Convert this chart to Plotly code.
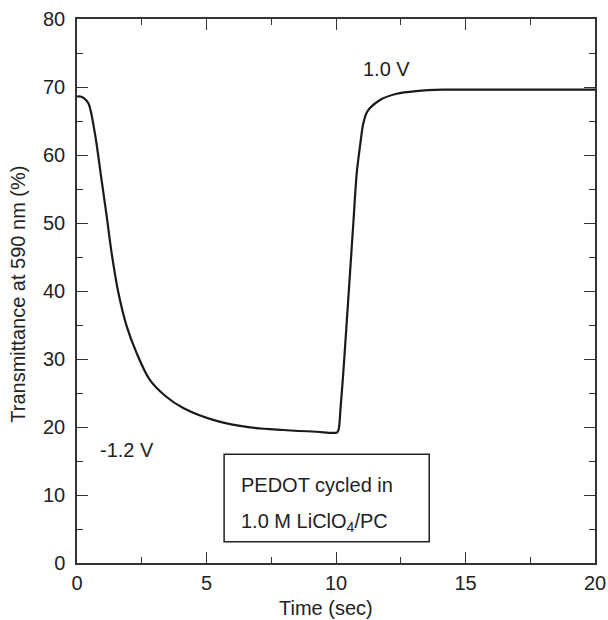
import plotly.graph_objects as go

# Data
time_sec = [0, 0.12, 0.25, 0.44, 0.69, 0.95, 1.15, 1.34, 1.6, 1.92, 2.3, 2.8, 3.4, 4.1,
            5.39, 6.68, 7.96, 9.25, 10.04, 10.1, 10.18, 10.28, 10.41, 10.54, 10.67, 10.8,
            10.93, 11.05, 11.17, 11.31, 11.7, 12.34, 13.1, 14.13, 15.5, 17.5, 20]
transmittance = [68.6, 68.6, 68.4, 67.6, 63.2, 56.3, 50.9, 45.5, 39.7, 34.8, 30.9, 27.0,
                 24.6, 22.8, 20.9, 19.95, 19.56, 19.3, 19.2, 19.6, 23.0, 27.9, 35.2, 42.6,
                 50.0, 57.3, 61.4, 64.6, 66.1, 66.9, 68.1, 69.0, 69.4, 69.6, 69.6, 69.6, 69.6]

x_ticks = [0, 5, 10, 15, 20]
y_ticks = [0, 10, 20, 30, 40, 50, 60, 70, 80]

FONT = "Arial, Liberation Sans, Helvetica, sans-serif"
INK = "#222222"

fig = go.Figure()
fig.add_trace(go.Scatter(x=time_sec, y=transmittance, mode="lines",
                         line=dict(color="#1a1a1a", width=2.2, shape="spline", smoothing=0.9),
                         showlegend=False, hoverinfo="skip"))

axis_common = dict(showline=True, linecolor="#333333", linewidth=1.5, mirror="ticks",
                   ticks="inside", ticklen=11, tickwidth=1.3, tickcolor="#333333",
                   showgrid=False, zeroline=False, automargin=False,
                   tickfont=dict(family=FONT, size=20, color=INK))

fig.update_xaxes(range=[0, 20], tickvals=x_ticks, ticktext=[str(v) for v in x_ticks],
                 minor=dict(ticks="inside", ticklen=6, dtick=2.5, tick0=0,
                            tickcolor="#333333", tickwidth=1.3),
                 ticklabelstandoff=1, **axis_common)
fig.update_yaxes(range=[0, 80], tickvals=y_ticks, ticktext=[str(v) for v in y_ticks],
                 minor=dict(ticks="inside", ticklen=6, dtick=5, tick0=0,
                            tickcolor="#333333", tickwidth=1.3),
                 ticklabelstandoff=6, **axis_common)

# Legend-like box
fig.add_shape(type="rect", xref="x", yref="y", x0=5.68, x1=13.6, y0=3.13, y1=16.0,
              line=dict(color="#222222", width=1.5), fillcolor="white", layer="above")

annotations = [
    dict(text="PEDOT cycled in", x=6.25, y=11.5, xanchor="left", yanchor="middle"),
    dict(text="1.0 M LiClO<sub>4</sub>/PC", x=6.25, y=6.0, xanchor="left", yanchor="middle"),
    dict(text="-1.2 V", x=0.81, y=16.6, xanchor="left", yanchor="middle"),
    dict(text="1.0 V", x=10.95, y=72.6, xanchor="left", yanchor="middle"),
]
for a in annotations:
    fig.add_annotation(xref="x", yref="y", showarrow=False,
                       font=dict(family=FONT, size=20, color=INK), **a)

# Axis titles as annotations for precise placement
fig.add_annotation(text="Time (sec)", xref="paper", yref="paper", x=0.48, y=-0.082,
                   xanchor="center", yanchor="middle", showarrow=False,
                   font=dict(family=FONT, size=20, color=INK))
fig.add_annotation(text="Transmittance at 590 nm (%)", xref="paper", yref="paper",
                   x=-0.114, y=0.495, xanchor="center", yanchor="middle", textangle=-90,
                   showarrow=False, font=dict(family=FONT, size=20, color=INK))

fig.update_layout(width=608, height=620, margin=dict(l=77, r=13, t=19, b=57),
                  plot_bgcolor="white", paper_bgcolor="white")

fig.write_html("out.html")
